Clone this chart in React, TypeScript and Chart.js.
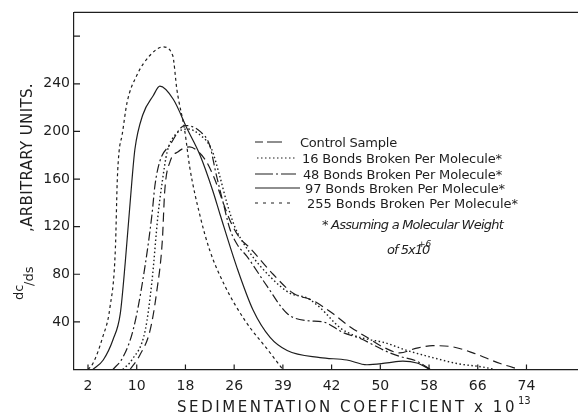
import React, { useEffect, useRef } from "react";
import { Chart, registerables } from "chart.js";

Chart.register(...registerables);

type Pt = [number, number];

const xTickValues = [2, 10, 18, 26, 34, 42, 50, 58, 66, 74];
const xTickLabels = ["2", "10", "18", "26", "39", "42", "50", "58", "66", "74"];
const yTickValues = [40, 80, 120, 160, 200, 240, 280];
const yTickLabels = ["40", "80", "120", "160", "200", "240", ""];

const legendLabels = [
  "Control Sample",
  "16 Bonds Broken Per Molecule*",
  "48 Bonds Broken Per Molecule*",
  "97 Bonds Broken Per Molecule*",
  "255 Bonds Broken Per Molecule*",
];

const controlSample: Pt[] = [
  [8.9, 0], [10.5, 12], [12.2, 33], [13.3, 66], [14.2, 108], [14.6, 150], [15.5, 175],
  [16.8, 183], [18.7, 187], [20.1, 183], [21.4, 175], [22.8, 160], [24.2, 140], [25.6, 122],
  [27.0, 110], [28.6, 102], [32.4, 80], [35.7, 64], [38.9, 58], [42.2, 47], [45.0, 36],
  [47.8, 27], [50.4, 19], [53.2, 14], [56.0, 18], [58.6, 20], [61.9, 19], [65.2, 14],
  [69.7, 5], [72.9, 0],
];

const bonds16: Pt[] = [
  [7.7, 0], [9.2, 8], [11.4, 33], [12.5, 74], [13.5, 130], [14.2, 158], [15.0, 183],
  [16.3, 197], [18.4, 202], [20.4, 197], [22.3, 185], [23.6, 163], [24.8, 140], [26.1, 120],
  [28.6, 98], [31.9, 78], [35.2, 64], [38.0, 60], [40.1, 52], [43.4, 35], [45.5, 29],
  [48.3, 25], [50.4, 23], [54.4, 16], [58.6, 10], [62.6, 5], [66.9, 2], [68.8, 0],
];

const bonds48: Pt[] = [
  [6.1, 0], [7.7, 10], [9.4, 33], [11.0, 75], [12.5, 130], [13.0, 155], [13.8, 175],
  [15.5, 189], [17.9, 205], [20.4, 200], [22.0, 188], [23.0, 165], [24.2, 140], [25.3, 118],
  [26.5, 105], [28.1, 95], [31.4, 70], [34.7, 47], [38.0, 41], [40.6, 40], [43.9, 31],
  [46.7, 26], [51.1, 15], [53.2, 11], [56.0, 7], [58.2, 0],
];

const bonds97: Pt[] = [
  [2.8, 0], [4.5, 8], [6.1, 25], [7.3, 47], [8.1, 89], [9.2, 158], [9.7, 185], [11.0, 214],
  [12.7, 230], [13.8, 238], [16.0, 227], [18.3, 202], [20.4, 180], [22.5, 150], [23.7, 130],
  [26.5, 85], [29.1, 50], [31.9, 27], [34.7, 16], [40.1, 10], [44.5, 8], [47.8, 4],
  [51.1, 5.5], [53.7, 7], [56.0, 5.5], [58.2, 0],
];

const bonds255: Pt[] = [
  [2.0, 0], [2.8, 5], [4.4, 27], [5.6, 52], [6.5, 102], [6.8, 158], [7.1, 183], [7.6, 197],
  [8.4, 224], [10.0, 247], [12.2, 264], [14.3, 271], [15.9, 264], [16.6, 235], [17.9, 200],
  [18.7, 170], [20.4, 129], [22.0, 100], [24.5, 70], [27.8, 41], [31.6, 16], [34.0, 0],
];

const INK = "#1e1e1e";
const FONT = "'DejaVu Sans', sans-serif";

const dashes: number[][] = [[9, 5], [1.5, 2.5], [9, 3, 2, 3], [], [3, 3]];

function fitText(ctx: CanvasRenderingContext2D, text: string, x: number, y: number, width: number, font: string) {
  ctx.font = font;
  (ctx as any).letterSpacing = "0px";
  const w = ctx.measureText(text).width;
  const n = text.length;
  const ls = n > 1 ? Math.max(-1, (width - w) / n) : 0;
  (ctx as any).letterSpacing = ls + "px";
  ctx.fillText(text, x, y);
  (ctx as any).letterSpacing = "0px";
}

const decorPlugin = {
  id: "decor",
  afterDraw(chart: any) {
    const { ctx, chartArea, scales } = chart;
    const xs = scales.x;
    const ys = scales.y;
    ctx.save();
    ctx.strokeStyle = INK;
    ctx.fillStyle = INK;
    ctx.lineWidth = 1.2;
    ctx.setLineDash([]);
    // top frame line
    ctx.beginPath();
    ctx.moveTo(chartArea.left, chartArea.top);
    ctx.lineTo(chartArea.right, chartArea.top);
    ctx.stroke();
    // inward tick marks
    ctx.beginPath();
    for (const v of xTickValues) {
      const px = xs.getPixelForValue(v);
      ctx.moveTo(px, chartArea.bottom);
      ctx.lineTo(px, chartArea.bottom - 5);
    }
    for (const v of yTickValues) {
      const py = ys.getPixelForValue(v);
      ctx.moveTo(chartArea.left, py);
      ctx.lineTo(chartArea.left + 6, py);
    }
    ctx.stroke();

    // legend
    const rowsY = [142, 158, 174, 188, 203];
    const lineX0 = [255, 257, 255, 255, 255];
    const lineX1 = [283, 297, 297, 300, 293];
    const legDash = [[8, 4, 15, 40], [1.5, 2.5], [18, 3, 2, 3, 15, 40], [], [3, 5]];
    const textX = [300, 302, 303, 305, 307];
    const textW = [97, 200, 199, 200, 211];
    ctx.lineWidth = 1.2;
    for (let i = 0; i < 5; i++) {
      ctx.setLineDash(legDash[i]);
      ctx.beginPath();
      ctx.moveTo(lineX0[i], rowsY[i]);
      ctx.lineTo(lineX1[i], rowsY[i]);
      ctx.stroke();
    }
    ctx.setLineDash([]);
    ctx.textBaseline = "alphabetic";
    ctx.textAlign = "left";
    for (let i = 0; i < 5; i++) {
      fitText(ctx, legendLabels[i], textX[i], rowsY[i] + 5, textW[i], `13px ${FONT}`);
    }
    fitText(ctx, "* Assuming a Molecular Weight", 322, 229, 181, `italic 13px ${FONT}`);
    fitText(ctx, "of 5x10", 387, 254, 30, `italic 13px ${FONT}`);
    ctx.font = `italic 9px ${FONT}`;
    ctx.fillText("+6", 418, 247);

    // x axis title
    fitText(ctx, "SEDIMENTATION COEFFICIENT x 10", 177, 412, 340, `15px ${FONT}`);
    ctx.font = `10px ${FONT}`;
    ctx.fillText("13", 518, 404);

    // y axis title (rotated)
    ctx.save();
    ctx.translate(32, 300);
    ctx.rotate(-Math.PI / 2);
    ctx.font = `13px ${FONT}`;
    ctx.fillText("dc", 0, -9);
    ctx.fillText("/ds", 14, 1);
    fitText(ctx, ",ARBITRARY UNITS.", 68, 0, 149, `15px ${FONT}`);
    ctx.restore();

    ctx.restore();
  },
};

export default function App() {
  const ref = useRef<HTMLCanvasElement | null>(null);

  useEffect(() => {
    if (!ref.current) return;
    const series = [controlSample, bonds16, bonds48, bonds97, bonds255];
    const chart = new Chart(ref.current, {
      type: "line",
      data: {
        datasets: series.map((s, i) => ({
          label: legendLabels[i],
          data: s.map(([x, y]) => ({ x, y })),
          borderColor: INK,
          borderWidth: i === 1 ? 1.4 : 1.2,
          borderDash: dashes[i],
          pointRadius: 0,
          fill: false,
          cubicInterpolationMode: "monotone" as const,
        })),
      },
      options: {
        responsive: false,
        animation: false,
        layout: { padding: { top: 9.5, right: 0, left: 0, bottom: 0 } },
        plugins: {
          legend: { display: false },
          tooltip: { enabled: false },
        },
        scales: {
          x: {
            type: "linear",
            min: -0.3,
            max: 82.46,
            afterFit: (s: any) => {
              s.height = 44.5;
            },
            afterBuildTicks: (s: any) => {
              s.ticks = xTickValues.map((v) => ({ value: v }));
            },
            ticks: {
              callback: (_v: any, i: number) => xTickLabels[i] ?? "",
              padding: 8,
              color: INK,
              font: { family: FONT, size: 14 },
              maxRotation: 0,
              autoSkip: false,
            },
            grid: { display: false, drawTicks: false },
            border: { display: true, color: INK, width: 1.2 },
          },
          y: {
            type: "linear",
            min: 0,
            max: 300,
            afterFit: (s: any) => {
              s.width = 74;
            },
            afterBuildTicks: (s: any) => {
              s.ticks = yTickValues.map((v) => ({ value: v }));
            },
            ticks: {
              callback: (_v: any, i: number) => yTickLabels[i] ?? "",
              padding: 4,
              color: INK,
              font: { family: FONT, size: 14 },
              autoSkip: false,
            },
            grid: { display: false, drawTicks: false },
            border: { display: true, color: INK, width: 1.2 },
          },
        },
      },
      plugins: [decorPlugin],
    });
    return () => chart.destroy();
  }, []);

  return (
    <div style={{ position: "absolute", left: 0, top: 0, width: 578, height: 414, background: "#fff" }}>
      <canvas ref={ref} width={578} height={414} style={{ display: "block" }} />
    </div>
  );
}
